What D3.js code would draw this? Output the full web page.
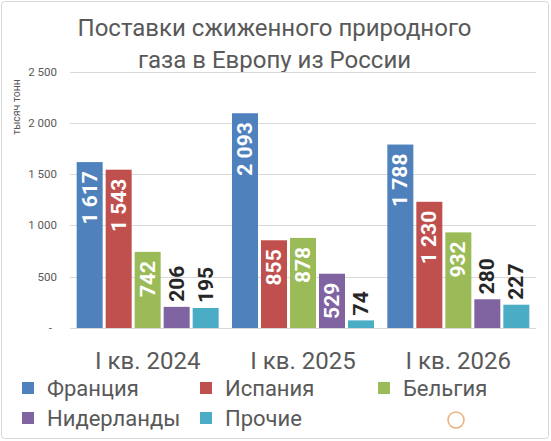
<!DOCTYPE html>
<html>
<head>
<meta charset="utf-8">
<script src="https://cdn.jsdelivr.net/npm/d3@7"></script>
<style>
body{margin:0;background:#fff}
svg{display:block;font-family:Roboto,"Open Sans",sans-serif}
</style>
</head>
<body>
<div id="chart"></div>
<script>
// data, thousand tonnes
var categories=["I кв. 2024","I кв. 2025","I кв. 2026"];
var seriesNames=["Франция","Испания","Бельгия","Нидерланды","Прочие"];
var france=[1617,2093,1788];
var spain=[1543,855,1230];
var belgium=[742,878,932];
var netherlands=[206,529,280];
var others=[195,74,227];
var yTicks=[0,500,1000,1500,2000,2500];
var titleLines=["Поставки сжиженного природного","газа в Европу из России"];
var yTitle="тысяч тонн";

var colorlst=["#4f81bd","#c0504d","#9bbb59","#8064a2","#4bacc6"];
var values=[france,spain,belgium,netherlands,others];

var ww=551,hh=441;
var plotL=70,plotR=536,plotT=71.5,plotB=328;

var loc=d3.formatLocale({decimal:",",thousands:"\u00a0",grouping:[3],currency:["",""]});
var fmt=loc.format(",d");

var svg=d3.select("#chart").append("svg")
    .attr("width",ww)
    .attr("height",hh);

svg.append("rect")
    .attr("x",1.5).attr("y",1.5)
    .attr("width",ww-4).attr("height",hh-4)
    .attr("rx",3)
    .attr("fill","#fff")
    .attr("stroke","#d9d9d9");

// title
svg.selectAll("text.title")
    .data(titleLines).enter()
    .append("text")
    .attr("class","title")
    .attr("x",ww/2-1)
    .attr("y",function(d,i){return 36+i*32;})
    .attr("text-anchor","middle")
    .attr("font-size",24)
    .attr("fill","#595959")
    .text(function(d){return d;});

var x0=d3.scaleBand().domain(categories).range([plotL,plotR]);
var x1=d3.scaleBand().domain(d3.range(seriesNames.length))
    .range([0,x0.bandwidth()])
    .paddingInner(0.1034)
    .paddingOuter(0.23);
var y=d3.scaleLinear().domain([0,2500]).range([plotB,plotT]);

// grid
svg.selectAll("line.grid")
    .data(yTicks).enter()
    .append("line")
    .attr("class","grid")
    .attr("x1",plotL).attr("x2",plotR)
    .attr("y1",function(d){return Math.round(y(d))+0.5;})
    .attr("y2",function(d){return Math.round(y(d))+0.5;})
    .attr("stroke","#d9d9d9");

svg.selectAll("text.ytick")
    .data(yTicks).enter()
    .append("text")
    .attr("class","ytick")
    .attr("x",function(d){return d===0?52:57;})
    .attr("y",function(d){return y(d);})
    .attr("dy","0.35em")
    .attr("text-anchor","end")
    .attr("font-size",11.5)
    .attr("fill","#595959")
    .text(function(d){return d===0?"-":fmt(d);});

svg.append("text")
    .attr("transform","translate(20,107) rotate(-90)")
    .attr("text-anchor","middle")
    .attr("font-size",10.5)
    .attr("fill","#595959")
    .text(yTitle);

// bars
var groups=svg.selectAll("g.series")
    .data(values).enter()
    .append("g")
    .attr("class","series")
    .attr("fill",function(d,i){return colorlst[i];});

groups.each(function(vals,si){
  var g=d3.select(this);
  g.selectAll("rect")
    .data(vals).enter()
    .append("rect")
    .attr("x",function(d,ci){return x0(categories[ci])+x1(si);})
    .attr("y",function(d){return y(d);})
    .attr("width",x1.bandwidth())
    .attr("height",function(d){return y(0)-y(d);});

  g.selectAll("text")
    .data(vals).enter()
    .append("text")
    .attr("font-size",21)
    .attr("font-weight","bold")
    .attr("dominant-baseline","central")
    .each(function(d,ci){
      var t=d3.select(this).text(fmt(d));
      var len=this.getComputedTextLength();
      var cx=x0(categories[ci])+x1(si)+x1.bandwidth()/2;
      var h=y(0)-y(d);
      if(h>len+14){
        t.attr("text-anchor","end")
         .attr("fill","#fff")
         .attr("transform","translate("+cx+","+(y(d)+9)+") rotate(-90)");
      } else {
        t.attr("text-anchor","start")
         .attr("fill","#262626")
         .attr("transform","translate("+cx+","+(y(d)-5)+") rotate(-90)");
      }
    });
});

// category labels
svg.selectAll("text.cat")
    .data(categories).enter()
    .append("text")
    .attr("class","cat")
    .attr("x",function(d){return x0(d)+x0.bandwidth()/2;})
    .attr("y",369)
    .attr("text-anchor","middle")
    .attr("font-size",24)
    .attr("fill","#595959")
    .text(function(d){return d;});

// legend
var leg=svg.selectAll("g.leg")
    .data(seriesNames).enter()
    .append("g")
    .attr("class","leg")
    .attr("transform",function(d,i){
      return "translate("+(22+(i%3)*178)+","+(388+Math.floor(i/3)*30)+")";});
leg.append("rect")
    .attr("x",0).attr("y",-6)
    .attr("width",12).attr("height",12)
    .attr("fill",function(d,i){return colorlst[i];});
leg.append("text")
    .attr("x",25)
    .attr("y",0)
    .attr("dy","0.35em")
    .attr("font-size",22)
    .attr("fill","#595959")
    .text(function(d){return d;});

// faint watermark circle
svg.append("circle")
    .attr("cx",456).attr("cy",420).attr("r",8)
    .attr("fill","none")
    .attr("stroke","#eab07a")
    .attr("stroke-width",1.5);
</script>
</body>
</html>
